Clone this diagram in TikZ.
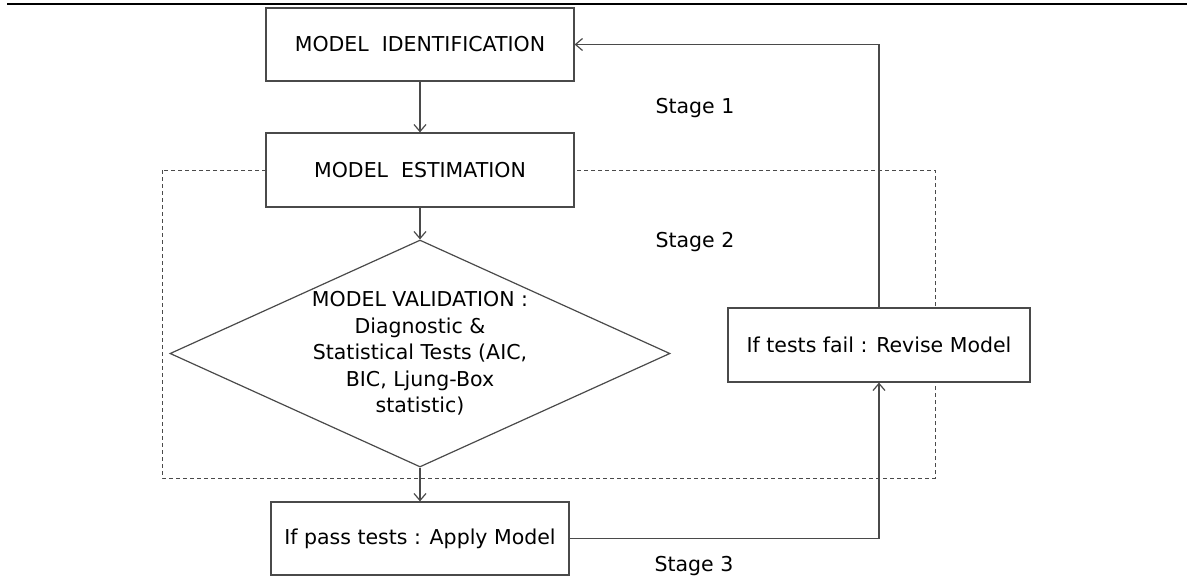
\documentclass[tikz,border=0pt]{standalone}
\usepackage{fontspec}
\setmainfont{DejaVu Sans}
\usepackage{tikz}
\usetikzlibrary{positioning, shapes.geometric, arrows.meta}
\definecolor{linegray}{HTML}{4A4A4A}
\tikzset{
    box/.style={draw=linegray, fill=white, line width=1.2pt, minimum width=308pt, minimum height=73pt, inner sep=0pt, font=\fontsize{20.5}{26.5}\selectfont},
    link/.style={-{Straight Barb[length=7pt, width=12pt]}, draw=linegray, line width=1.2pt},
    stage/.style={font=\fontsize{20.5}{26.5}\selectfont}
}

\begin{document}
\begin{tikzpicture}[x=1pt, y=-1pt]
    \useasboundingbox (0,0) rectangle (1187,579);

    % Linha do topo
    \draw[line width=2.5pt] (7,4) -- (1187,4);

    % Caixa tracejada
    \draw[draw=linegray, line width=1pt, dash pattern=on 4pt off 3pt] (162,170) rectangle (935,478);

    % Caixas
    \node[box] (ident) at (420,44.5) {MODEL\ \ IDENTIFICATION};
    \node[box, minimum height=74pt] (estim) at (420,170) {MODEL\ \ ESTIMATION};
    \node[diamond, draw=linegray, fill=white, line width=1.2pt, minimum width=500pt, minimum height=227pt, inner sep=0pt, aspect=2.2, align=center, font=\fontsize{20.5}{26.5}\selectfont] (valid) at (420,353.5) {MODEL VALIDATION :\\ Diagnostic \&\\ Statistical Tests (AIC,\\ BIC, Ljung-Box\\ statistic)};
    \node[box, minimum width=298pt] (apply) at (420,538.5) {If pass tests : Apply Model};
    \node[box, minimum width=302pt, minimum height=74pt] (revise) at (879,345) {If tests fail : Revise Model};

    % Rotulos
    \node[stage] (st1) at (695,108) {Stage 1};
    \node[stage] (st2) at (695,242) {Stage 2};
    \node[stage] (st3) at (694,566) {Stage 3};

    % Setas
    \draw[link] (ident) -- (estim);
    \draw[link] (estim) -- (valid);
    \draw[link] (valid) -- (apply);
    \draw[link] (apply.east) -| (revise.south);
    \draw[link] (revise.north) |- (ident.east);

\end{tikzpicture}
\end{document}
